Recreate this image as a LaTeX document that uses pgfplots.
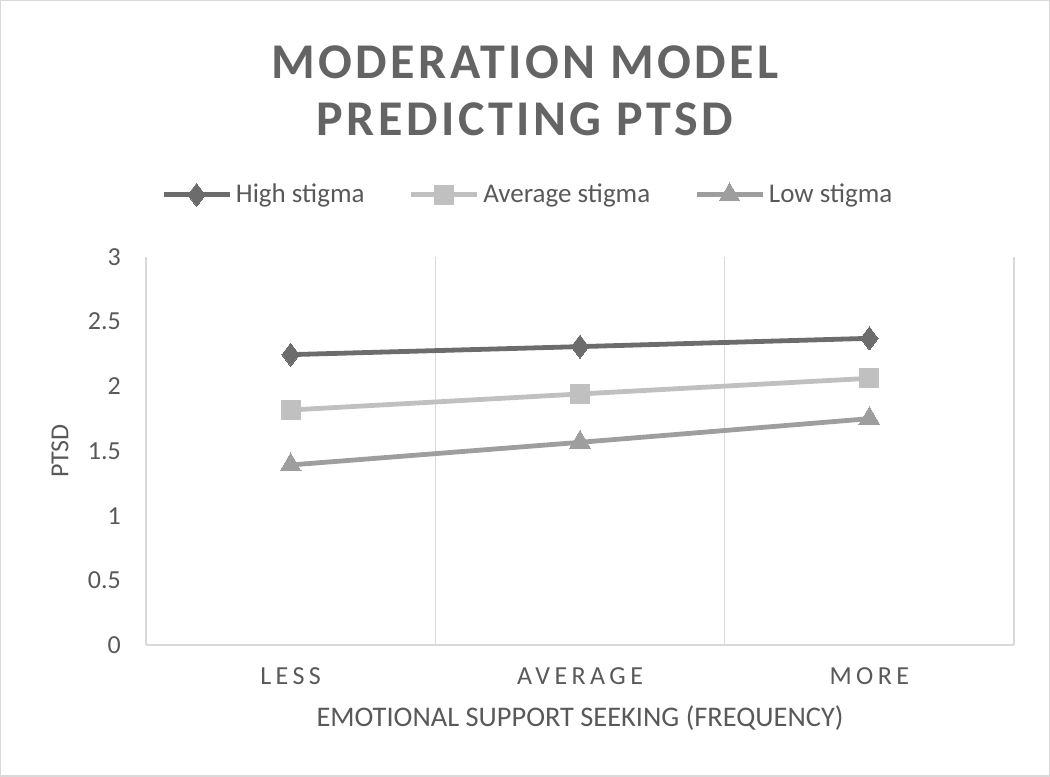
\documentclass[border=0pt]{standalone}
\usepackage{pgfplots}
\pgfplotsset{compat=1.18}
\usepackage{fontspec}
\setmainfont{Carlito}
\definecolor{txt}{RGB}{89,89,89}
\definecolor{ttl}{RGB}{100,100,100}
\definecolor{hi}{RGB}{108,108,108}
\definecolor{av}{RGB}{192,192,192}
\definecolor{lo}{RGB}{158,158,158}
\definecolor{grd}{RGB}{217,217,217}
\begin{document}
\begin{tikzpicture}
\draw[grd, line width=0.75pt] (0.4pt,0.4pt) rectangle (524.6pt,388.1pt);
\node[ttl, font=\fontsize{25}{30}\selectfont\bfseries\addfontfeature{LetterSpace=7}] at (262.5pt,357.5pt) {MODERATION MODEL};
\node[ttl, font=\fontsize{25}{30}\selectfont\bfseries\addfontfeature{LetterSpace=7}] at (262.5pt,329pt) {PREDICTING PTSD};
\begin{axis}[
  at={(73pt,66pt)}, anchor=south west, scale only axis,
  width=434pt, height=194pt,
  xmin=-0.5, xmax=2.5, ymin=0, ymax=3,
  xtick={0,1,2}, xticklabels={LESS,AVERAGE,MORE},
  minor xtick={-0.5,0.5,1.5,2.5}, xminorgrids,
  minor grid style={grd, line width=0.75pt},
  ytick={0,0.5,1,1.5,2,2.5,3},
  major tick length=0pt, minor tick length=0pt,
  axis x line=bottom, axis y line=left,
  axis line style={grd, line width=0.75pt, -},
  /pgf/number format/assume math mode=true,
  yticklabel style={font=\fontsize{13}{15}\selectfont, text=txt, xshift=-9pt},
  xticklabel style={font=\fontsize{13}{15}\selectfont\addfontfeature{LetterSpace=17}, text=txt, yshift=-8pt},
  ylabel={PTSD},
  ylabel style={font=\fontsize{13}{15}\selectfont, text=txt, at={(axis description cs:-0.099,0.5)}, anchor=center},
  xlabel={EMOTIONAL SUPPORT SEEKING (FREQUENCY)},
  xlabel style={font=\fontsize{14.2}{16}\selectfont, text=txt, at={(axis description cs:0.5,-0.188)}, anchor=center},
  legend columns=3,
  legend style={at={(axis description cs:0.441,1.16)}, anchor=center, draw=none, fill=none,
    font=\fontsize{13.5}{15}\selectfont, text=txt,
    /tikz/every even column/.append style={column sep=20pt}},
  legend image code/.code={\draw[mark repeat=2, mark phase=2, #1] plot coordinates {(0pt,0pt) (16.5pt,0pt) (33pt,0pt)};},
]
\addplot[hi, line width=2.4pt, mark=diamond*, mark size=5.8pt, mark options={solid, line width=0pt}] coordinates {(0,2.245) (1,2.307) (2,2.371)};
\addlegendentry{High stigma}
\addplot[av, line width=2.4pt, mark=square*, mark size=4.8pt, mark options={solid, line width=0pt}] coordinates {(0,1.817) (1,1.941) (2,2.062)};
\addlegendentry{Average stigma}
\addplot[lo, line width=2.4pt, mark=triangle*, mark size=6pt, mark options={solid, line width=0pt}] coordinates {(0,1.392) (1,1.567) (2,1.750)};
\addlegendentry{Low stigma}
\end{axis}
\end{tikzpicture}
\end{document}
